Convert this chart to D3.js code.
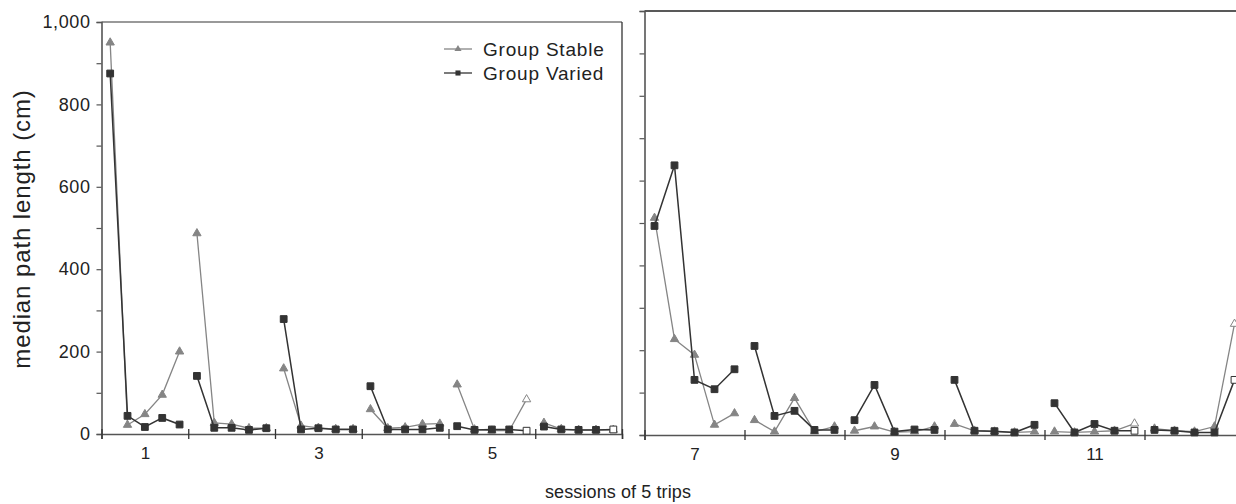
<!DOCTYPE html>
<html>
<head>
<meta charset="utf-8">
<script src="https://cdn.jsdelivr.net/npm/d3@7"></script>
<style>
body{margin:0;background:#fff;}
text{font-family:"Liberation Sans",Arial,Helvetica,sans-serif;fill:#222;}
</style>
</head>
<body>
<svg id="myGraph" width="1236" height="504"></svg>
<script>
// 12 sessions of 5 trips, median path length in cm
var sessions = [1,2,3,4,5,6,7,8,9,10,11,12];
var trips = [1,2,3,4,5];
var stable = [
	[950,22,48,95,200],
	[487,27,24,14,14],
	[159,20,15,12,12],
	[60,14,16,24,25],
	[120,11,8,8,84],
	[27,12,10,10,10],
	[512,226,189,24,51],
	[35,8,87,8,20],
	[10,20,7,8,20],
	[26,10,8,6,8],
	[8,6,8,10,27],
	[15,10,8,20,262]
];
var varied = [
	[875,44,17,39,23],
	[141,15,15,10,14],
	[279,11,14,11,11],
	[116,11,11,11,15],
	[19,10,11,11,8],
	[18,11,10,10,11],
	[493,636,130,108,155],
	[210,45,57,12,12],
	[35,118,8,13,12],
	[130,10,9,6,24],
	[75,6,26,10,10],
	[12,10,6,6,130]
];
// trips drawn with hollow markers (session, trip)
var openPoints = [[5,5],[6,5],[11,5],[12,5]];
var yTicks = [0,100,200,300,400,500,600,700,800,900,1000];
var leftLabels = [1,3,5];
var rightLabels = [7,9,11];
var seriesNames = ["Group Stable","Group Varied"];

var svg = d3.select("#myGraph");
var colStable = "#858585", colVaried = "#333333", axisCol = "#555";

var panels = [
	{sessions:sessions.slice(0,6), labels:leftLabels, showY:true,
	 x:d3.scaleLinear().domain([0.5,6.5]).range([101.5,622]),
	 y:d3.scaleLinear().domain([0,1000]).range([434,22])},
	{sessions:sessions.slice(6), labels:rightLabels, showY:false,
	 x:d3.scaleLinear().domain([6.5,12.5]).range([644.5,1244.5]),
	 y:d3.scaleLinear().domain([0,1000]).range([435,11])}
];

function tripPos(s,t){ return s - 0.5 + (t - 0.5)/5; }
function isOpen(s,t){
	return openPoints.some(function(p){ return p[0]==s && p[1]==t; });
}

var tri = d3.symbol().type(d3.symbolTriangle).size(30);
var sq = d3.symbol().type(d3.symbolSquare).size(46);

panels.forEach(function(p){
	var g = svg.append("g");
	var x0 = p.x.range()[0], x1 = p.x.range()[1];

	// frame: top line (and right side on the left panel)
	g.append("line").attr("x1",x0).attr("x2",Math.min(x1,1236))
		.attr("y1",p.y(1000)).attr("y2",p.y(1000))
		.attr("stroke",p.showY ? "#777" : "#222").attr("stroke-width",1.3);
	if(p.showY){
		g.append("line").attr("x1",x1).attr("x2",x1)
			.attr("y1",p.y(1000)).attr("y2",p.y(0))
			.attr("stroke","#333").attr("stroke-width",1.3);
	}

	// y axis
	var yAxis = d3.axisLeft(p.y).tickValues(yTicks).tickSize(5).tickPadding(6)
		.tickFormat(function(d){ return (p.showY && d%200==0) ? d3.format(",")(d) : ""; });
	var ya = g.append("g").attr("transform","translate("+x0+",0)").call(yAxis);
	ya.select(".domain").attr("stroke",axisCol).attr("stroke-width",1.6);
	ya.selectAll(".tick line").attr("stroke",axisCol).attr("stroke-width",1.2);
	ya.selectAll("text").attr("font-size",18).style("letter-spacing","0.6px")
		.attr("font-family","Liberation Sans, Arial, sans-serif").attr("fill","#222");

	// x axis with session boundaries crossing the line
	var bounds = p.sessions.map(function(s){ return s-0.5; }).concat([p.sessions[p.sessions.length-1]+0.5]);
	var xAxis = d3.axisBottom(p.x).tickValues(bounds).tickSize(5).tickFormat("");
	var xa = g.append("g").attr("transform","translate(0,"+p.y(0)+")").call(xAxis);
	xa.select(".domain").attr("stroke",axisCol).attr("stroke-width",1.6);
	xa.selectAll(".tick line").attr("y1",-5).attr("stroke","#333").attr("stroke-width",1.3);

	var xl = g.append("g").attr("transform","translate(0,"+p.y(0)+")")
		.call(d3.axisBottom(p.x).tickValues(p.labels).tickSize(0).tickPadding(13).tickFormat(d3.format("d")));
	xl.select(".domain").remove();
	xl.selectAll("text").attr("font-size",17)
		.attr("font-family","Liberation Sans, Arial, sans-serif").attr("fill","#222");

	var line = d3.line()
		.x(function(d){ return p.x(tripPos(d.s,d.t)); })
		.y(function(d){ return p.y(d.v); });

	[{vals:stable, col:colStable, sym:tri, w:1.3},
	 {vals:varied, col:colVaried, sym:sq, w:1.5}].forEach(function(ser){
		p.sessions.forEach(function(s){
			var pts = trips.map(function(t){ return {s:s, t:t, v:ser.vals[s-1][t-1]}; });
			g.append("path").attr("d",line(pts))
				.attr("fill","none").attr("stroke",ser.col).attr("stroke-width",ser.w);
			g.selectAll(null).data(pts).enter().append("path")
				.attr("d",ser.sym)
				.attr("transform",function(d){ return "translate("+p.x(tripPos(d.s,d.t))+","+p.y(d.v)+")"; })
				.attr("fill",function(d){ return isOpen(d.s,d.t) ? "#fff" : ser.col; })
				.attr("stroke",ser.col).attr("stroke-width",1);
		});
	});
});

// legend
var leg = svg.append("g");
[{col:colStable, sym:tri, y:49},{col:colVaried, sym:sq, y:73}].forEach(function(l,i){
	leg.append("line").attr("x1",444).attr("x2",472).attr("y1",l.y).attr("y2",l.y)
		.attr("stroke",l.col).attr("stroke-width",1.3);
	leg.append("path").attr("d",i==0 ? d3.symbol().type(d3.symbolTriangle).size(22)() : d3.symbol().type(d3.symbolSquare).size(26)())
		.attr("transform","translate(458,"+l.y+")").attr("fill",l.col);
	leg.append("text").attr("x",483).attr("y",l.y).attr("dy","0.36em")
		.attr("font-size",19).style("letter-spacing","0.8px").text(seriesNames[i]);
});

// axis titles
svg.append("text").attr("transform","translate(30,229) rotate(-90)")
	.attr("text-anchor","middle").attr("font-size",24).style("letter-spacing","0.9px")
	.text("median path length (cm)");
svg.append("text").attr("x",618).attr("y",498).attr("text-anchor","middle")
	.attr("font-size",18).style("letter-spacing","0.1px").text("sessions of 5 trips");
</script>
</body>
</html>
